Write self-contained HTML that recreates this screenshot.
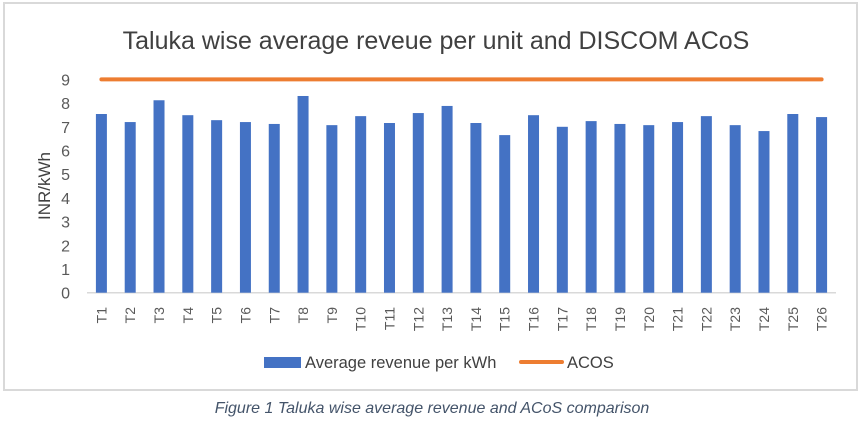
<!DOCTYPE html>
<html><head><meta charset="utf-8"><style>
body{margin:0;background:#fff;width:862px;height:418px;overflow:hidden;font-family:"Liberation Sans",sans-serif;}
</style></head><body>
<svg id="chart" width="862" height="418" viewBox="0 0 862 418">
<rect x="4" y="3" width="853" height="387" fill="#fff" stroke="#d9d9d9" stroke-width="2"/>
<text x="436" y="49" text-anchor="middle" font-size="25" fill="#404040">Taluka wise average reveue per unit and DISCOM ACoS</text>
<text transform="translate(50,186) rotate(-90)" text-anchor="middle" font-size="17" fill="#404040">INR/kWh</text>
<g id="yticks"></g><g id="bars"></g><g id="xlabels"></g><g id="line"></g>
<g>
<rect x="264" y="357" width="37" height="11" fill="#4472c4"/>
<text x="305" y="368" font-size="16.5" fill="#404040">Average revenue per kWh</text>
<line x1="521" y1="362" x2="562" y2="362" stroke="#ed7d31" stroke-width="4" stroke-linecap="round"/>
<text x="567" y="368" font-size="16.5" fill="#404040">ACOS</text>
</g>
<text x="432" y="413" text-anchor="middle" font-size="16" font-style="italic" fill="#44546a">Figure 1 Taluka wise average revenue and ACoS comparison</text>
</svg>
<script>
const categories=["T1","T2","T3","T4","T5","T6","T7","T8","T9","T10","T11","T12","T13","T14","T15","T16","T17","T18","T19","T20","T21","T22","T23","T24","T25","T26"];
const revenue=[7.54,7.2,8.12,7.49,7.28,7.2,7.12,8.3,7.07,7.45,7.16,7.58,7.88,7.16,6.65,7.49,7.0,7.24,7.12,7.07,7.2,7.45,7.07,6.82,7.54,7.41];
const acos=[9,9,9,9,9,9,9,9,9,9,9,9,9,9,9,9,9,9,9,9,9,9,9,9,9,9];
const yTicks=[0,1,2,3,4,5,6,7,8,9];
const NS="http://www.w3.org/2000/svg";
const x0=87,x1=836,y0=292.7,yPerUnit=23.7;
const band=(x1-x0)/categories.length;
function xc(i){return x0+band*(i+0.5);}
function ys(v){return y0-v*yPerUnit;}
function mk(t,a,p){const e=document.createElementNS(NS,t);for(const k in a)e.setAttribute(k,a[k]);p.appendChild(e);return e;}
const yt=document.getElementById('yticks');
yTicks.forEach(v=>{const t=mk('text',{x:70,y:ys(v)+6,'text-anchor':'end','font-size':16,fill:'#595959'},yt);t.textContent=v;

});
const ax=mk('line',{x1:x0,y1:y0,x2:x1,y2:y0,stroke:'#d9d9d9','stroke-width':1.5},yt);


const bg=document.getElementById('bars'),xl=document.getElementById('xlabels');
revenue.forEach((v,i)=>{const r=mk('rect',{x:xc(i)-5.5,y:ys(v),width:11,height:y0-ys(v),fill:'#4472c4'},bg);


const t=mk('text',{transform:`translate(${xc(i)+5},307) rotate(-90)`,'text-anchor':'end','font-size':14,fill:'#595959'},xl);t.textContent=categories[i];

});
const pts=acos.map((v,i)=>xc(i)+','+ys(v)).join(' ');
const pl=mk('polyline',{points:pts,fill:'none',stroke:'#ed7d31','stroke-width':4,'stroke-linecap':'round'},document.getElementById('line'));


</script>
</body></html>
